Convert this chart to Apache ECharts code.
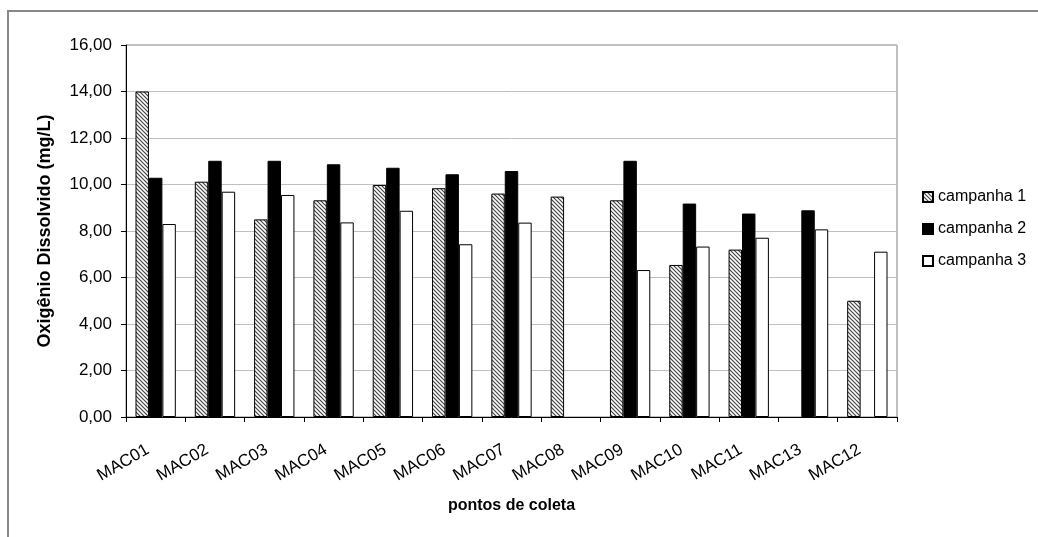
<!DOCTYPE html>
<html>
<head>
<meta charset="utf-8">
<style>html,body{margin:0;padding:0;background:#fff;}#c{width:1038px;height:537px;}</style>
<script src="https://cdn.jsdelivr.net/npm/echarts@6/dist/echarts.min.js"></script>
</head>
<body>
<div id="c"></div>
<script>
const categories = ['MAC01','MAC02','MAC03','MAC04','MAC05','MAC06','MAC07','MAC08','MAC09','MAC10','MAC11','MAC13','MAC12'];
const campanha1 = [14.00, 10.12, 8.50, 9.32, 9.98, 9.84, 9.61, 9.48, 9.32, 6.54, 7.20, null, 5.00];
const campanha2 = [10.29, 11.02, 11.02, 10.87, 10.72, 10.44, 10.58, null, 11.02, 9.18, 8.75, 8.89, null];
const campanha3 = [8.30, 9.69, 9.55, 8.37, 8.87, 7.43, 8.36, null, 6.32, 7.33, 7.71, 8.07, 7.11];
const seriesNames = ['campanha 1','campanha 2','campanha 3'];
const yAxisTitle = 'Oxigênio Dissolvido (mg/L)';
const xAxisTitle = 'pontos de coleta';

function hatch() {
  const cv = document.createElement('canvas');
  cv.width = 4; cv.height = 4;
  const g = cv.getContext('2d');
  g.fillStyle = '#fff'; g.fillRect(0,0,4,4);
  g.strokeStyle = '#444'; g.lineWidth = 1.2;
  g.beginPath();
  g.moveTo(-1,-1); g.lineTo(5,5);
  g.moveTo(-1,3); g.lineTo(1,5);
  g.moveTo(3,-1); g.lineTo(5,1);
  g.stroke();
  return cv;
}
const hatchFill = { image: hatch(), repeat: 'repeat' };

const font = 'Liberation Sans, Arial, sans-serif';
const chart = echarts.init(document.getElementById('c'), null, {renderer:'canvas'});
const mk = (name, data, color) => ({
  name, type: 'bar', data,
  barGap: '0%', barCategoryGap: '32%',
  itemStyle: { color, borderColor: '#000', borderWidth: 1 },
  emphasis: { disabled: true }
});
chart.setOption({
  animation: false,
  textStyle: { fontFamily: font },
  graphic: [{
    type: 'rect', shape: { x: 8, y: 11, width: 1200, height: 700 },
    style: { fill: 'none', stroke: '#888', lineWidth: 2 }, silent: true, z: -1
  }],
  grid: { left: 126, right: 141, top: 45, bottom: 120, show: true, borderColor: '#808080', borderWidth: 1, backgroundColor: 'transparent' },
  legend: {
    orient: 'vertical', left: 917, top: 184, itemWidth: 10, itemHeight: 10, itemGap: 16,
    icon: 'rect',
    textStyle: { fontFamily: font, fontSize: 16, color: '#000' },
    data: seriesNames
  },
  xAxis: {
    type: 'category', data: categories,
    name: xAxisTitle, nameLocation: 'middle', nameGap: 81,
    nameTextStyle: { fontFamily: font, fontSize: 16, fontWeight: 'bold', color: '#000' },
    axisLine: { lineStyle: { color: '#000', width: 1 } },
    axisTick: { show: true, length: 5, lineStyle: { color: '#000' } },
    axisLabel: { rotate: 30, fontFamily: font, fontSize: 17, color: '#000', margin: 27, padding: [0, 9, 0, 0] },
    splitLine: { show: false }
  },
  yAxis: {
    type: 'value', min: 0, max: 16, interval: 2,
    name: yAxisTitle, nameLocation: 'middle', nameGap: 72,
    nameTextStyle: { fontFamily: font, fontSize: 18, fontWeight: 'bold', color: '#000' },
    axisLine: { show: true, lineStyle: { color: '#000', width: 1 } },
    axisTick: { show: true, length: 5, lineStyle: { color: '#000' } },
    axisLabel: { fontFamily: font, fontSize: 17, color: '#000', margin: 14,
      formatter: v => v.toFixed(2).replace('.', ',') },
    splitLine: { show: true, lineStyle: { color: '#c0c0c0', width: 1 } }
  },
  series: [
    mk(seriesNames[0], campanha1, hatchFill),
    mk(seriesNames[1], campanha2, '#000'),
    mk(seriesNames[2], campanha3, '#fff')
  ]
});
</script>
</body>
</html>
